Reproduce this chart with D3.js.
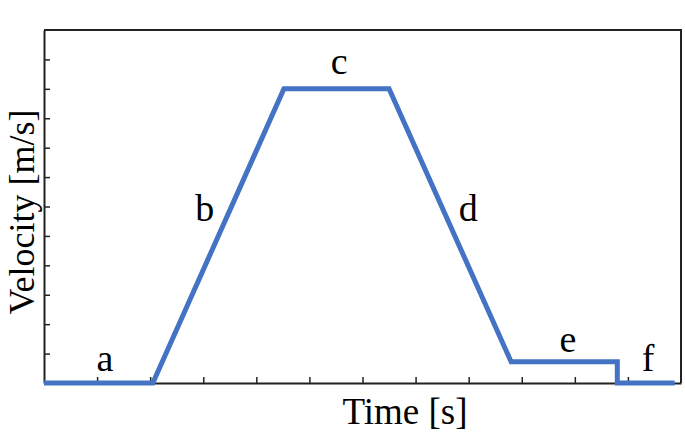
<!DOCTYPE html>
<html>
<head>
<meta charset="utf-8">
<script src="https://cdn.jsdelivr.net/npm/d3@7"></script>
<style>
  body { margin: 0; background: #fff; }
  text { font-family: "Liberation Serif", "DejaVu Serif", serif; fill: #000; }
</style>
</head>
<body>
<div id="chart"></div>
<script>
'use strict';

/*** Data */
/* Velocity profile breakpoints */
const timeVals = [0, 2.05, 4.52, 6.5, 8.8, 10.8, 10.8, 11.88];
const velocityVals = [0, 0, 10, 10, 0.72, 0.72, 0, 0];

/* Segment labels and where they sit (data units) */
const segLabels = ["a", "b", "c", "d", "e", "f"];
const labelTimes = [1.15, 3.03, 5.56, 7.99, 9.87, 11.38];
const labelVels = [0.42, 5.5, 10.5, 5.5, 1.06, 0.42];

/* Unlabelled ticks */
const xTicks = d3.range(1, 12);
const yTicks = d3.range(1, 12);

/*** Dimensions */
const w = 685;
const h = 436;
const margin = { top: 30, right: 4, bottom: 53, left: 44 };

const svg = d3.select("#chart")
    .append("svg")
    .attr("width", w)
    .attr("height", h);

const xScale = d3.scaleLinear()
    .domain([0, 12])
    .range([margin.left, w - margin.right]);

const yScale = d3.scaleLinear()
    .domain([0, 12])
    .range([h - margin.bottom, margin.top]);

/*** Frame: top and right edges */
svg.append("path")
    .attr("d", "M" + xScale(0) + "," + yScale(12) + "H" + xScale(12) + "V" + yScale(0))
    .attr("fill", "none")
    .attr("stroke", "#222")
    .attr("stroke-width", 2);

/*** Axes, ticks pointing inward */
const xAxis = d3.axisBottom(xScale)
    .tickValues(xTicks)
    .tickSize(-6)
    .tickSizeOuter(0)
    .tickFormat("");

const yAxis = d3.axisLeft(yScale)
    .tickValues(yTicks)
    .tickSize(-6)
    .tickSizeOuter(0)
    .tickFormat("");

const gx = svg.append("g")
    .attr("transform", "translate(0," + yScale(0) + ")")
    .call(xAxis);

const gy = svg.append("g")
    .attr("transform", "translate(" + xScale(0) + ",0)")
    .call(yAxis);

[gx, gy].forEach(g => {
    g.select(".domain").attr("stroke", "#222").attr("stroke-width", 2);
    g.selectAll(".tick line").attr("stroke", "#222").attr("stroke-width", 1.5);
});

/*** Velocity line */
const line = d3.line()
    .x((d, i) => xScale(timeVals[i]))
    .y(d => yScale(d));

svg.append("path")
    .datum(velocityVals)
    .attr("d", line)
    .attr("fill", "none")
    .attr("stroke", "#4472c4")
    .attr("stroke-width", 5)
    .attr("stroke-linejoin", "miter");

/*** Segment labels */
svg.selectAll(".seg")
    .data(segLabels)
    .enter()
    .append("text")
    .attr("class", "seg")
    .attr("x", (d, i) => xScale(labelTimes[i]))
    .attr("y", (d, i) => yScale(labelVels[i]))
    .attr("text-anchor", "middle")
    .style("font-size", "38px")
    .text(d => d);

/*** Axis titles */
svg.append("text")
    .attr("x", 405)
    .attr("y", 424)
    .attr("text-anchor", "middle")
    .style("font-size", "37px")
    .text("Time [s]");

svg.append("text")
    .attr("transform", "translate(34,212) rotate(-90)")
    .attr("text-anchor", "middle")
    .style("font-size", "36px")
    .text("Velocity [m/s]");
</script>
</body>
</html>
